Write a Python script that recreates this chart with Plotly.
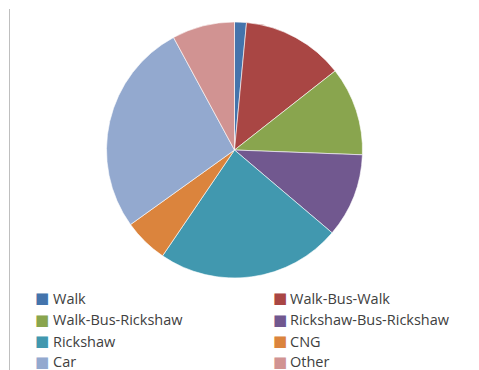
import plotly.graph_objects as go

# Travel mode shares (%)
modes = ["Walk", "Walk-Bus-Walk", "Walk-Bus-Rickshaw", "Rickshaw-Bus-Rickshaw",
         "Rickshaw", "CNG", "Car", "Other"]
shares = [1.5, 12.9, 11.2, 10.6, 23.3, 5.6, 27.0, 7.9]
colors = ["#4474AC", "#A94644", "#89A54E", "#71588F",
          "#4198AF", "#DB843D", "#93A9CF", "#D19392"]

W, H = 479, 370

fig = go.Figure(go.Pie(
    labels=modes,
    values=shares,
    sort=False,
    direction="clockwise",
    rotation=0,
    textinfo="none",
    hoverinfo="label+percent",
    marker=dict(colors=colors, line=dict(color="white", width=0.6)),
    domain=dict(x=[106.5 / W, 362.5 / W], y=[1 - 278 / H, 1 - 22 / H]),
))

# Two-column legend below the pie
col_sq = [42, 280]      # swatch centres (px)
col_txt = [52, 289]     # label starts (px)
row_y = [298, 319.5, 341, 361.5]
ann = []
for i, (m, c) in enumerate(zip(modes, colors)):
    col, row = i % 2, i // 2
    yy = 1 - row_y[row] / H
    ann.append(dict(x=col_sq[col] / W, y=yy, xref="paper", yref="paper",
                    text="■", showarrow=False, xanchor="center", yanchor="middle",
                    borderpad=0,
                    font=dict(family="DejaVu Sans", size=15, color=c)))
    ann.append(dict(x=col_txt[col] / W, y=yy, xref="paper", yref="paper",
                    text=m, showarrow=False, xanchor="left", yanchor="middle",
                    borderpad=0,
                    font=dict(family="Open Sans", size=14.5, color="#404040")))

fig.update_layout(
    width=W, height=H,
    margin=dict(l=0, r=0, t=0, b=0),
    paper_bgcolor="white",
    plot_bgcolor="white",
    showlegend=False,
    annotations=ann,
    shapes=[dict(type="line", xref="paper", yref="paper",
                 x0=9.5 / W, x1=9.5 / W, y0=0, y1=1 - 9 / H,
                 line=dict(color="#BFBFBF", width=1))],
)

fig.write_html("out.html")
